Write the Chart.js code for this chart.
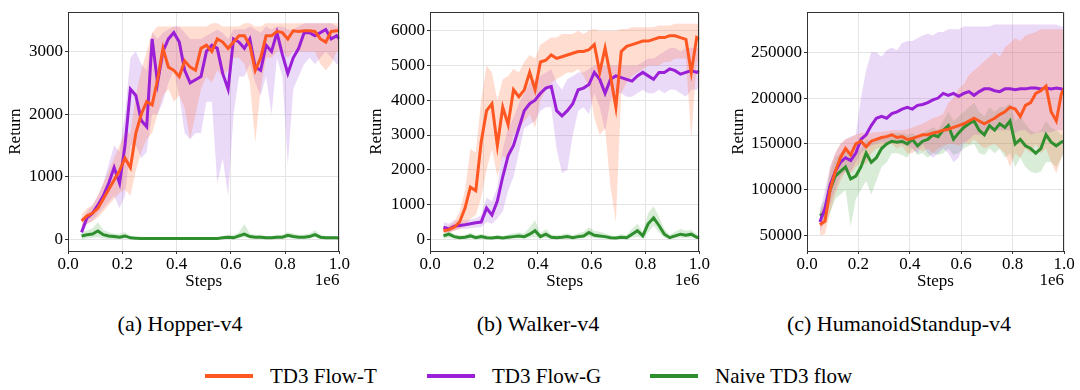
<!DOCTYPE html>
<html>
<head>
<meta charset="utf-8">
<script src="https://cdn.jsdelivr.net/npm/chart.js@4.4.0/dist/chart.umd.min.js"></script>
<style>
  body { margin: 0; background: #fff; font-family: "Liberation Serif", "DejaVu Serif", serif; }
  #wrap { position: relative; width: 1080px; height: 390px; overflow: hidden; }
  canvas { position: absolute; top: 0; }
  .cap { position: absolute; top: 311px; font-size: 22px; transform: translateX(-50%); white-space: nowrap; color: #000; }
  .leg { position: absolute; top: 363px; height: 26px; font-size: 21px; white-space: nowrap; display: flex; align-items: center; color: #000; }
  .sw { display: inline-block; width: 48px; height: 4px; margin-right: 17px; }
</style>
</head>
<body>
<div id="wrap">
  <canvas id="hopper" width="350" height="300" style="left:0px"></canvas>
  <canvas id="walker" width="350" height="300" style="left:360px"></canvas>
  <canvas id="humanoid" width="360" height="300" style="left:720px"></canvas>

  <div class="cap" style="left:180px">(a) Hopper-v4</div>
  <div class="cap" style="left:538px">(b) Walker-v4</div>
  <div class="cap" style="left:899px">(c) HumanoidStandup-v4</div>

  <div class="leg" style="left:205px"><span class="sw" style="background:#ff5722"></span>TD3 Flow-T</div>
  <div class="leg" style="left:427px"><span class="sw" style="background:#9a1fd6"></span>TD3 Flow-G</div>
  <div class="leg" style="left:650px"><span class="sw" style="background:#2f8f2f"></span>Naive TD3 flow</div>
</div>

<script>
// env steps (x 1e6)
const steps = [0.05,0.07,0.09,0.11,0.13,0.15,0.17,0.19,0.21,0.23,
  0.25,0.27,0.29,0.31,0.33,0.35,0.37,0.39,0.41,0.43,
  0.45,0.47,0.49,0.51,0.53,0.55,0.57,0.59,0.61,0.63,
  0.65,0.67,0.69,0.71,0.73,0.75,0.77,0.79,0.81,0.83,
  0.85,0.87,0.89,0.91,0.93,0.95,0.97,0.99,1.0];

const xTicks = [0, 0.2, 0.4, 0.6, 0.8, 1.0];
const hopperTicks = [0, 1000, 2000, 3000];
const walkerTicks = [0, 1000, 2000, 3000, 4000, 5000, 6000];
const humanoidTicks = [50000, 100000, 150000, 200000, 250000];

// Hopper-v4
const hopperT = [300,380,420,500,650,800,950,1100,1300,1150,
  1700,2000,2200,2150,2550,3050,2750,2700,2600,2850,
  2750,2700,3050,3100,3000,3200,3150,3050,3150,3250,
  3250,3100,2700,2900,3250,3250,3320,3300,3200,3330,
  3320,3330,3330,3320,3200,3150,3320,3330,3330];
const hopperTLo = [200,250,300,350,450,550,650,750,800,700,
  1100,1400,1600,1700,2000,2300,2400,2200,2300,2100,
  1600,2000,2400,2600,2500,2700,2600,2700,2900,2900,
  2800,2500,1550,2400,2900,2900,3000,3000,2900,3000,
  3000,3000,3000,3000,2800,2700,2800,3000,3000];
const hopperTHi = [400,500,550,700,900,1100,1300,1500,1700,1700,
  2300,2700,3000,3300,3400,3400,3400,3400,3400,3400,
  3400,3400,3400,3400,3450,3450,3400,3400,3400,3400,
  3450,3450,3400,3400,3450,3450,3450,3450,3450,3450,
  3450,3450,3450,3450,3450,3450,3450,3450,3450];
const hopperG = [120,350,420,550,700,900,1150,900,1500,2400,
  2300,1900,1800,3200,2500,3000,3200,3300,3150,2700,
  2500,2550,2600,3000,3100,3050,2650,2400,3200,3150,
  3050,3200,2750,2700,3100,3000,3300,2950,2650,2900,
  3050,3300,3300,3250,3300,3350,3200,3250,3200];
const hopperGLo = [50,250,300,400,500,600,700,500,700,1500,
  1500,1300,1400,2000,2000,2200,2500,2700,2300,1700,
  1600,1700,1700,2200,2200,900,1300,700,2000,2600,
  2600,2800,2500,2300,2600,2000,2900,2600,1200,2400,
  2600,2800,2900,2800,2900,3000,2900,2800,2800];
const hopperGHi = [200,450,550,700,900,1200,1500,1400,2000,2900,
  3000,2800,2700,3300,3200,3300,3350,3400,3400,3300,
  3200,3200,3200,3250,3300,3350,3300,3200,3350,3350,
  3350,3400,3350,3300,3400,3350,3400,3400,3350,3350,
  3400,3450,3450,3450,3450,3450,3450,3400,3400];
const hopperN = [60,80,90,140,80,60,50,40,60,30,
  25,20,20,20,20,20,20,20,20,20,
  20,20,20,20,20,20,30,40,30,60,
  90,50,40,40,30,30,40,40,70,50,
  40,40,50,80,40,30,30,30,25];
const hopperNLo = [0,20,30,40,20,10,10,10,20,10,
  10,10,10,10,10,10,10,10,10,10,
  10,10,10,10,10,10,10,20,10,20,
  40,20,20,20,10,10,20,20,30,20,
  20,20,20,40,20,10,10,10,10];
const hopperNHi = [120,150,180,280,160,120,100,90,120,60,
  40,30,30,30,30,30,30,30,30,30,
  30,30,30,30,30,30,60,80,70,120,
  250,100,80,80,60,60,80,80,120,100,
  80,80,100,150,80,60,60,60,50];

// Walker-v4
const walkerT = [250,280,350,500,900,1500,1400,2800,3700,3900,
  2700,3800,3300,4300,4100,4300,4800,4300,5100,5150,
  5300,5200,5250,5300,5350,5400,5400,5450,5600,4800,
  5500,4700,3800,5400,5550,5600,5650,5700,5700,5750,
  5800,5800,5850,5850,5800,5750,4800,5800,5750];
const walkerTLo = [150,200,250,300,400,600,700,1200,2000,2600,
  1800,2400,2300,3000,3200,3400,3600,3200,4000,4300,
  4500,4600,4700,4800,4800,4900,4700,4400,3500,3000,
  3200,1500,500,4200,4500,4700,4800,4900,5000,5000,
  5000,5100,5100,5200,5200,5200,2900,5100,5100];
const walkerTHi = [350,400,500,800,1400,2600,2500,4000,5000,4800,
  4000,4600,4700,4900,4800,5100,5300,5200,5600,5700,
  5800,5800,5900,5900,5900,6000,5900,6000,6050,6000,
  6000,6000,6000,6050,6050,6100,6100,6100,6100,6100,
  6150,6150,6150,6200,6200,6200,6200,6200,6200];
const walkerG = [350,300,380,400,420,450,480,500,900,700,
  1100,1800,2400,2700,3200,3700,3900,4000,4200,4350,
  4400,3700,3550,3700,3900,4300,4350,4450,4800,4600,
  4200,4600,4700,4650,4600,4550,4700,4800,4700,4600,
  4800,4800,4900,4850,4750,4800,4850,4800,4850];
const walkerGLo = [250,200,250,300,300,320,340,350,500,450,
  600,800,1400,1800,2500,3200,3300,3400,3700,3800,
  3800,2600,1900,2000,3000,3700,3800,3600,4200,3800,
  3100,4000,4200,4200,4100,4100,4200,4300,4200,4200,
  4300,4200,4300,4300,4200,4100,4300,4300,4400];
const walkerGHi = [500,450,550,550,550,580,600,700,1200,1100,
  1500,2600,3200,3500,3900,4200,4500,4600,4700,4800,
  4900,4500,4300,4600,4700,4800,4800,4900,5000,5000,
  5000,5000,5000,5000,5000,5000,5000,5100,5200,5200,
  5300,5400,5500,5500,5400,5500,5500,5500,5500];
const walkerN = [100,150,80,50,60,100,50,80,50,40,
  60,40,60,80,100,80,150,250,80,150,
  60,50,60,80,50,80,100,200,120,100,
  80,50,40,60,50,150,250,100,450,620,
  400,150,50,100,150,120,150,60,50];
const walkerNLo = [20,50,20,10,10,30,10,20,10,10,
  10,10,10,20,30,20,50,80,20,50,
  10,10,10,20,10,20,30,80,40,30,
  20,10,10,10,10,50,80,30,200,400,
  200,50,10,30,50,40,50,20,10];
const walkerNHi = [200,250,150,120,130,200,120,160,120,100,
  130,100,140,180,200,180,350,550,180,300,
  140,120,140,180,120,180,220,350,250,220,
  180,120,100,150,130,300,450,220,750,950,
  650,300,130,220,300,250,280,150,120];

// HumanoidStandup-v4
const humT = [62000,66000,100000,120000,135000,145000,138000,150000,153000,147000,
  153000,155000,157000,158000,160000,157000,158000,155000,156000,158000,
  160000,160000,162000,163000,165000,166000,168000,170000,172000,175000,
  178000,175000,172000,175000,178000,182000,185000,190000,188000,180000,
  192000,195000,205000,208000,213000,185000,175000,205000,210000];
const humTLo = [50000,52000,75000,95000,110000,120000,118000,125000,130000,128000,
  140000,145000,147000,150000,150000,145000,148000,140000,140000,145000,
  142000,145000,140000,145000,148000,150000,150000,148000,152000,150000,
  155000,150000,145000,148000,150000,145000,140000,125000,140000,135000,
  145000,140000,150000,140000,145000,130000,118000,135000,145000];
const humTHi = [75000,85000,125000,140000,150000,155000,157000,160000,162000,162000,
  162000,163000,163000,164000,165000,165000,165000,166000,168000,170000,
  172000,175000,178000,180000,183000,195000,200000,210000,215000,225000,
  230000,235000,240000,245000,250000,245000,255000,260000,265000,262000,
  268000,270000,272000,275000,275000,275000,275000,275000,275000];
const humG = [65000,80000,105000,120000,130000,135000,132000,140000,155000,160000,
  170000,178000,180000,178000,183000,185000,188000,190000,188000,192000,
  193000,195000,198000,200000,205000,203000,205000,202000,205000,207000,
  203000,207000,210000,210000,208000,207000,210000,210000,209000,210000,
  210000,211000,211000,210000,211000,210000,211000,210000,207000];
const humGLo = [55000,65000,85000,100000,115000,120000,120000,130000,140000,145000,
  148000,150000,152000,150000,152000,150000,150000,148000,145000,140000,
  150000,140000,135000,140000,145000,140000,130000,135000,150000,155000,
  160000,160000,162000,165000,165000,165000,165000,165000,162000,165000,
  165000,160000,162000,163000,162000,163000,165000,165000,165000];
const humGHi = [75000,100000,125000,140000,150000,155000,158000,160000,200000,230000,
  250000,250000,245000,252000,255000,252000,260000,262000,262000,265000,
  268000,270000,268000,272000,272000,275000,275000,275000,278000,278000,
  278000,278000,278000,278000,280000,280000,280000,280000,280000,280000,
  280000,280000,280000,280000,280000,280000,280000,278000,278000];
const humN = [72000,75000,100000,115000,120000,125000,112000,115000,125000,140000,
  130000,135000,145000,150000,153000,152000,153000,150000,155000,148000,
  153000,155000,160000,158000,165000,170000,155000,162000,168000,172000,
  175000,165000,160000,170000,165000,172000,168000,175000,150000,155000,
  148000,145000,140000,145000,160000,152000,148000,152000,153000];
const humNLo = [65000,62000,75000,90000,95000,100000,60000,90000,100000,110000,
  95000,110000,125000,130000,140000,140000,138000,135000,145000,138000,
  140000,135000,140000,138000,140000,145000,138000,140000,145000,148000,
  150000,140000,138000,145000,140000,145000,135000,140000,125000,135000,
  125000,120000,118000,120000,130000,130000,125000,135000,140000];
const humNHi = [80000,90000,120000,135000,140000,145000,140000,140000,145000,155000,
  152000,155000,158000,160000,162000,162000,162000,160000,162000,158000,
  162000,165000,168000,165000,175000,185000,175000,180000,185000,190000,
  195000,185000,180000,190000,185000,190000,190000,195000,175000,180000,
  172000,165000,162000,165000,175000,168000,165000,160000,160000];

const FONT = '"Liberation Serif", "DejaVu Serif", serif';
const ORANGE = '#ff5722', PURPLE = '#9a1fd6', GREEN = '#2f8f2f';

const pts = arr => arr.map((v, i) => ({ x: steps[i], y: v }));

// top/right spines and the 1e6 offset label
const frame = {
  id: 'frame',
  afterDraw(chart) {
    const { ctx, chartArea: a } = chart;
    ctx.save();
    ctx.strokeStyle = '#333';
    ctx.lineWidth = 1;
    ctx.beginPath();
    ctx.moveTo(Math.round(a.left) + 0.5, Math.round(a.top) + 0.5);
    ctx.lineTo(Math.round(a.right) - 0.5, Math.round(a.top) + 0.5);
    ctx.lineTo(Math.round(a.right) - 0.5, Math.round(a.bottom));
    ctx.stroke();
    ctx.fillStyle = '#000';
    ctx.font = '17px ' + FONT;
    ctx.textAlign = 'right';
    ctx.textBaseline = 'middle';
    ctx.fillText('1e6', a.right, 281);
    ctx.restore();
  }
};

function panel(id, yMin, yMax, yTicks, yWidth, rightPad, titlePad, lines) {
  const datasets = [];
  // mean lines first so orange ends up on top
  lines.forEach(s => datasets.push({
    data: pts(s.mean), borderColor: s.color, borderWidth: 3,
    pointRadius: 0, fill: false, tension: 0
  }));
  lines.forEach(s => {
    datasets.push({ data: pts(s.hi), borderColor: 'rgba(0,0,0,0)', borderWidth: 0,
      backgroundColor: s.band, pointRadius: 0, fill: '+1' });
    datasets.push({ data: pts(s.lo), borderColor: 'rgba(0,0,0,0)', borderWidth: 0,
      pointRadius: 0, fill: false });
  });

  const grid = { color: '#e4e4e4', tickColor: '#333', tickLength: 3 };
  new Chart(document.getElementById(id), {
    type: 'line',
    data: { datasets },
    options: {
      responsive: false,
      animation: false,
      devicePixelRatio: 1,
      layout: { padding: { top: 9, right: rightPad, left: 0, bottom: 0 } },
      plugins: {
        legend: { display: false },
        tooltip: { enabled: false },
        filler: { drawTime: 'beforeDatasetsDraw' }
      },
      scales: {
        x: {
          type: 'linear', min: 0, max: 1,
          afterBuildTicks: sc => { sc.ticks = xTicks.map(v => ({ value: v })); },
          afterFit: sc => { sc.height = 49; },
          ticks: { callback: v => v.toFixed(1), font: { family: FONT, size: 17 }, color: '#000', padding: 0, maxRotation: 0 },
          grid, border: { color: '#333' },
          title: { display: true, text: 'Steps', font: { family: FONT, size: 17 }, color: '#000', padding: { top: 0, bottom: 8 } }
        },
        y: {
          min: yMin, max: yMax,
          afterBuildTicks: sc => { sc.ticks = yTicks.map(v => ({ value: v })); },
          afterFit: sc => { sc.width = yWidth; },
          ticks: { callback: v => String(v), font: { family: FONT, size: 17 }, color: '#000', padding: 2 },
          grid, border: { color: '#333' },
          title: { display: true, text: 'Return', font: { family: FONT, size: 17 }, color: '#000', padding: { top: titlePad, bottom: 0 } }
        }
      }
    },
    plugins: [frame]
  });
}

const bandT = 'rgba(255,120,70,0.25)', bandG = 'rgba(165,80,225,0.22)', bandN = 'rgba(60,160,60,0.2)';

panel('hopper', -180, 3626, hopperTicks, 68, 10, 5, [
  { mean: hopperT, lo: hopperTLo, hi: hopperTHi, color: ORANGE, band: bandT },
  { mean: hopperG, lo: hopperGLo, hi: hopperGHi, color: PURPLE, band: bandG },
  { mean: hopperN, lo: hopperNLo, hi: hopperNHi, color: GREEN, band: bandN }
]);
panel('walker', -333, 6530, walkerTicks, 70, 7, 6, [
  { mean: walkerT, lo: walkerTLo, hi: walkerTHi, color: ORANGE, band: bandT },
  { mean: walkerG, lo: walkerGLo, hi: walkerGHi, color: PURPLE, band: bandG },
  { mean: walkerN, lo: walkerNLo, hi: walkerNHi, color: GREEN, band: bandN }
]);
panel('humanoid', 33400, 293500, humanoidTicks, 87, 16, 8, [
  { mean: humT, lo: humTLo, hi: humTHi, color: ORANGE, band: bandT },
  { mean: humG, lo: humGLo, hi: humGHi, color: PURPLE, band: bandG },
  { mean: humN, lo: humNLo, hi: humNHi, color: GREEN, band: bandN }
]);
</script>
</body>
</html>
